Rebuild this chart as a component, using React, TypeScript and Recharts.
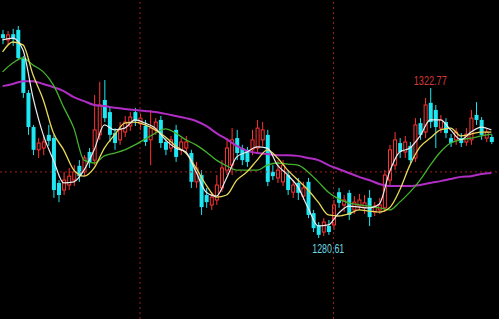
import React from 'react';
import { ComposedChart, Bar, Line, XAxis, YAxis, ReferenceLine, ReferenceDot } from 'recharts';

// Daily candles (price)
const opens = [
  1337.9, 1336.3, 1337.9, 1339.1, 1331.2, 1321.4, 1311.8, 1305.4, 1305.9, 1309.6,
  1308.7, 1296.1, 1294.1, 1295.5, 1296.9, 1300.9, 1299.2, 1304.8, 1302.5, 1309.6,
  1319.4, 1316.0, 1310.1, 1308.2, 1310.4, 1312.1, 1316.0, 1312.7, 1312.1, 1308.2,
  1311.0, 1313.8, 1307.6, 1305.9, 1311.0, 1305.4, 1305.9, 1304.5, 1296.4, 1298.3,
  1292.7, 1289.9, 1291.3, 1294.7, 1299.7, 1301.1, 1308.7, 1305.9, 1305.4, 1305.4,
  1305.9, 1308.2, 1309.6, 1299.2, 1297.5, 1296.4, 1298.3, 1293.5, 1296.1, 1292.4,
  1296.4, 1287.6, 1284.3, 1282.3, 1284.0, 1284.3, 1293.5, 1289.9, 1293.3, 1288.5,
  1289.6, 1289.1, 1291.9, 1287.9, 1288.5, 1289.1, 1296.9, 1301.1, 1307.3, 1304.8,
  1306.5, 1303.1, 1312.9, 1310.4, 1318.6, 1316.6, 1311.5, 1313.2, 1308.7, 1308.2,
  1308.7, 1307.6, 1308.2, 1315.2, 1313.8, 1308.7, 1309.0,
];
const closes = [
  1336.8, 1337.7, 1336.5, 1331.2, 1321.4, 1311.8, 1305.4, 1307.3, 1307.6, 1307.9,
  1294.1, 1292.7, 1296.9, 1298.0, 1299.2, 1298.0, 1303.1, 1301.7, 1311.0, 1318.0,
  1314.3, 1309.6, 1307.3, 1311.0, 1313.2, 1314.6, 1313.5, 1314.3, 1307.6, 1311.5,
  1313.2, 1307.3, 1305.4, 1308.2, 1303.4, 1307.6, 1307.6, 1296.4, 1300.3, 1289.3,
  1290.7, 1292.1, 1295.5, 1300.3, 1305.9, 1308.2, 1304.5, 1302.5, 1302.0, 1308.2,
  1311.5, 1311.0, 1296.4, 1298.0, 1299.7, 1301.1, 1294.1, 1295.5, 1293.3, 1294.7,
  1287.1, 1283.4, 1281.5, 1285.1, 1282.3, 1289.9, 1290.5, 1291.3, 1287.1, 1290.7,
  1291.3, 1290.5, 1286.5, 1289.6, 1289.9, 1298.3, 1305.4, 1308.2, 1304.8, 1307.6,
  1302.5, 1312.4, 1309.6, 1318.0, 1313.2, 1311.8, 1313.8, 1310.1, 1307.3, 1310.4,
  1307.3, 1309.8, 1314.3, 1313.8, 1309.6, 1310.4, 1307.6,
];
const highs = [
  1339.1, 1338.8, 1339.4, 1340.2, 1331.8, 1322.2, 1312.4, 1308.7, 1309.6, 1312.4,
  1309.6, 1296.9, 1299.2, 1300.3, 1301.1, 1302.5, 1303.9, 1305.9, 1320.8, 1324.5,
  1325.0, 1317.2, 1311.5, 1313.2, 1314.9, 1316.0, 1317.2, 1315.5, 1313.8, 1316.6,
  1314.3, 1314.9, 1308.7, 1309.3, 1312.4, 1308.7, 1309.3, 1305.4, 1302.0, 1299.7,
  1294.7, 1293.5, 1298.3, 1302.5, 1308.7, 1311.5, 1311.0, 1306.8, 1306.2, 1311.0,
  1313.8, 1313.2, 1311.0, 1301.1, 1302.5, 1302.5, 1299.7, 1296.9, 1297.5, 1296.4,
  1297.5, 1288.5, 1285.1, 1286.2, 1285.7, 1291.3, 1294.7, 1292.7, 1294.1, 1292.4,
  1293.0, 1292.7, 1294.1, 1290.7, 1291.9, 1299.7, 1306.8, 1310.4, 1308.7, 1309.3,
  1307.6, 1314.3, 1314.3, 1320.0, 1322.77, 1318.0, 1315.2, 1314.3, 1309.8, 1311.5,
  1310.1, 1311.5, 1316.6, 1318.8, 1314.6, 1311.5, 1309.8,
];
const lows = [
  1335.1, 1334.9, 1334.6, 1330.6, 1320.0, 1309.6, 1303.9, 1303.1, 1303.9, 1306.5,
  1291.9, 1290.7, 1292.7, 1294.1, 1295.2, 1296.4, 1298.0, 1300.3, 1301.1, 1308.2,
  1313.2, 1307.6, 1305.4, 1306.8, 1309.0, 1310.7, 1312.1, 1311.0, 1306.5, 1301.1,
  1309.6, 1305.9, 1303.9, 1304.8, 1302.0, 1303.9, 1304.8, 1294.7, 1294.7, 1287.1,
  1289.1, 1288.5, 1289.9, 1293.5, 1298.3, 1298.3, 1302.5, 1301.1, 1300.6, 1303.9,
  1304.8, 1306.5, 1295.2, 1296.9, 1296.1, 1295.2, 1292.7, 1291.9, 1291.3, 1291.3,
  1286.2, 1282.3, 1280.61, 1281.2, 1281.5, 1282.9, 1289.1, 1287.9, 1285.7, 1287.4,
  1288.5, 1287.4, 1284.0, 1286.8, 1287.4, 1287.9, 1295.5, 1299.7, 1303.1, 1303.1,
  1301.7, 1302.0, 1308.2, 1308.7, 1311.5, 1305.9, 1310.1, 1308.7, 1306.2, 1306.8,
  1306.2, 1306.5, 1306.8, 1312.4, 1308.2, 1307.6, 1307.0,
];

// Moving averages, read at every second bar
const ma5 = [
  1336.3, 1336.8, 1333.5, 1320.0, 1309.6, 1302.5, 1296.1, 1296.4, 1299.7, 1305.4,
  1312.4, 1311.0, 1311.5, 1313.8, 1312.9, 1311.5, 1308.2, 1305.9, 1304.8, 1299.2,
  1293.5, 1292.4, 1297.5, 1303.4, 1304.8, 1306.2, 1305.9, 1301.1, 1298.3, 1295.0,
  1289.1, 1284.0, 1284.3, 1287.6, 1289.6, 1289.3, 1289.1, 1290.2, 1299.2, 1304.8,
  1305.9, 1309.3, 1313.8, 1313.8, 1311.0, 1308.2, 1310.4, 1311.8, 1311.0,
];
const ma10 = [
  1332.9, 1335.7, 1334.9, 1326.4, 1319.4, 1310.1, 1305.4, 1299.7, 1298.0, 1300.3,
  1305.9, 1309.6, 1312.9, 1313.2, 1312.4, 1311.0, 1309.0, 1306.5, 1304.5, 1300.3,
  1295.5, 1292.1, 1292.7, 1296.9, 1299.2, 1302.5, 1305.4, 1303.1, 1299.7, 1296.9,
  1294.1, 1290.7, 1287.1, 1286.8, 1287.4, 1288.5, 1288.2, 1287.9, 1289.1, 1294.1,
  1301.1, 1306.2, 1308.7, 1311.0, 1311.5, 1309.3, 1309.8, 1310.4, 1310.4,
];
const ma20 = [
  1327.3, 1329.8, 1331.2, 1329.2, 1327.3, 1323.6, 1317.4, 1311.5, 1302.5, 1301.7,
  1303.7, 1304.5, 1305.4, 1306.8, 1308.4, 1310.1, 1311.3, 1310.1, 1308.2, 1306.8,
  1304.8, 1302.5, 1300.9, 1299.7, 1299.7, 1299.7, 1301.1, 1301.7, 1301.4, 1301.1,
  1299.2, 1296.4, 1293.5, 1291.6, 1290.5, 1289.9, 1289.6, 1289.1, 1288.5, 1290.7,
  1293.5, 1296.9, 1301.1, 1304.8, 1307.3, 1308.2, 1308.7, 1309.3, 1309.8,
];
const ma60 = [
  1323.3, 1323.9, 1324.7, 1324.7, 1323.9, 1323.0, 1321.9, 1320.2, 1319.1, 1318.0,
  1317.7, 1317.2, 1316.9, 1316.6, 1316.3, 1316.0, 1315.5, 1314.9, 1314.3, 1313.5,
  1312.1, 1310.1, 1308.4, 1306.5, 1305.1, 1304.5, 1304.2, 1303.9, 1303.9, 1303.7,
  1303.1, 1302.5, 1301.1, 1300.0, 1298.9, 1297.8, 1296.9, 1295.8, 1295.2, 1295.2,
  1295.2, 1295.5, 1296.1, 1296.6, 1297.2, 1297.8, 1298.0, 1298.6, 1298.9,
];

const slotCount = 98;
const highMarkIndex = 84;
const highMarkText = '1322.77';
const lowMarkIndex = 62;
const lowMarkText = '1280.61';
const gridPrice = 1299.2;
const gridBars = [27, 65];
const priceDomain = [1257.86, 1347.5];

const data = Array.from({ length: slotCount }, (_, i) => {
  const has = i < opens.length;
  const k = i / 2;
  const even = i % 2 === 0;
  return {
    i,
    open: has ? opens[i] : null,
    close: has ? closes[i] : null,
    high: has ? highs[i] : null,
    low: has ? lows[i] : null,
    range: has ? [lows[i], highs[i]] : null,
    ma5: even && k < ma5.length ? ma5[k] : null,
    ma10: even && k < ma10.length ? ma10[k] : null,
    ma20: even && k < ma20.length ? ma20[k] : null,
    ma60: even && k < ma60.length ? ma60[k] : null,
  };
});

const UP = '#ff3434';
const DOWN = '#1ee6f2';

const Candle = (props: any) => {
  const { x, y, width, height, payload } = props;
  if (!payload || payload.open == null) return null;
  const { open, close, high, low } = payload;
  const top = Math.min(y, y + height);
  const h = Math.abs(height);
  const span = high - low || 1;
  const k = h / span;
  const cx = x + width / 2;
  const yOpen = top + (high - open) * k;
  const yClose = top + (high - close) * k;
  const up = close >= open;
  const bTop = Math.min(yOpen, yClose);
  const bh = Math.max(Math.abs(yOpen - yClose), 1);
  if (up) {
    return (
      <g>
        <line x1={cx} x2={cx} y1={top} y2={bTop} stroke={UP} strokeWidth={1} />
        <line x1={cx} x2={cx} y1={bTop + bh} y2={top + h} stroke={UP} strokeWidth={1} />
        <rect x={x + 0.5} y={bTop} width={width - 1} height={bh} fill="#000" stroke={UP} strokeWidth={1} />
      </g>
    );
  }
  return (
    <g>
      <line x1={cx} x2={cx} y1={top} y2={top + h} stroke={DOWN} strokeWidth={1} />
      <rect x={x} y={bTop} width={width} height={bh} fill={DOWN} />
    </g>
  );
};

const markFont = '"Liberation Sans Narrow", "Liberation Sans", Arial, sans-serif';

export default function App() {
  return (
    <div style={{ position: 'absolute', left: 0, top: 0, width: 499, height: 319, background: '#000' }}>
      <ComposedChart width={499} height={319} data={data} margin={{ top: 0, right: 0, bottom: 0, left: 0 }}>
        <XAxis dataKey="i" type="category" hide />
        <YAxis type="number" domain={priceDomain} hide allowDataOverflow />
        <ReferenceLine y={gridPrice} stroke="#a01c1c" strokeDasharray="2 3" />
        {gridBars.map((b) => (
          <ReferenceLine key={b} x={b} stroke="#a01c1c" strokeDasharray="2 3" />
        ))}
        <Bar dataKey="range" barSize={4} shape={Candle} isAnimationActive={false} />
        <Line type="monotone" dataKey="ma60" stroke="#b02ec4" strokeWidth={2} dot={false} activeDot={false} connectNulls isAnimationActive={false} />
        <Line type="monotone" dataKey="ma20" stroke="#44b22c" strokeWidth={1.3} dot={false} activeDot={false} connectNulls isAnimationActive={false} />
        <Line type="monotone" dataKey="ma10" stroke="#e8d85a" strokeWidth={1.3} dot={false} activeDot={false} connectNulls isAnimationActive={false} />
        <Line type="monotone" dataKey="ma5" stroke="#ececec" strokeWidth={1.2} dot={false} activeDot={false} connectNulls isAnimationActive={false} />
        <ReferenceDot
          x={highMarkIndex}
          y={highs[highMarkIndex]}
          r={1}
          fill="none"
          stroke="none"
          label={{
            content: (p: any) => (
              <text
                x={p.viewBox.x + 1}
                y={p.viewBox.y + 1 - 3}
                textAnchor="middle"
                fill="#d43a3a"
                fontSize={13}
                fontFamily={markFont}
                textLength={33}
                lengthAdjust="spacingAndGlyphs"
              >
                {highMarkText}
              </text>
            ),
          }}
        />
        <ReferenceDot
          x={lowMarkIndex}
          y={lows[lowMarkIndex]}
          r={1}
          fill="none"
          stroke="none"
          label={{
            content: (p: any) => (
              <text
                x={p.viewBox.x + 1 + 10}
                y={p.viewBox.y + 1 + 15}
                textAnchor="middle"
                fill="#6fd8e0"
                fontSize={13}
                fontFamily={markFont}
                textLength={32}
                lengthAdjust="spacingAndGlyphs"
              >
                {lowMarkText}
              </text>
            ),
          }}
        />
      </ComposedChart>
    </div>
  );
}
